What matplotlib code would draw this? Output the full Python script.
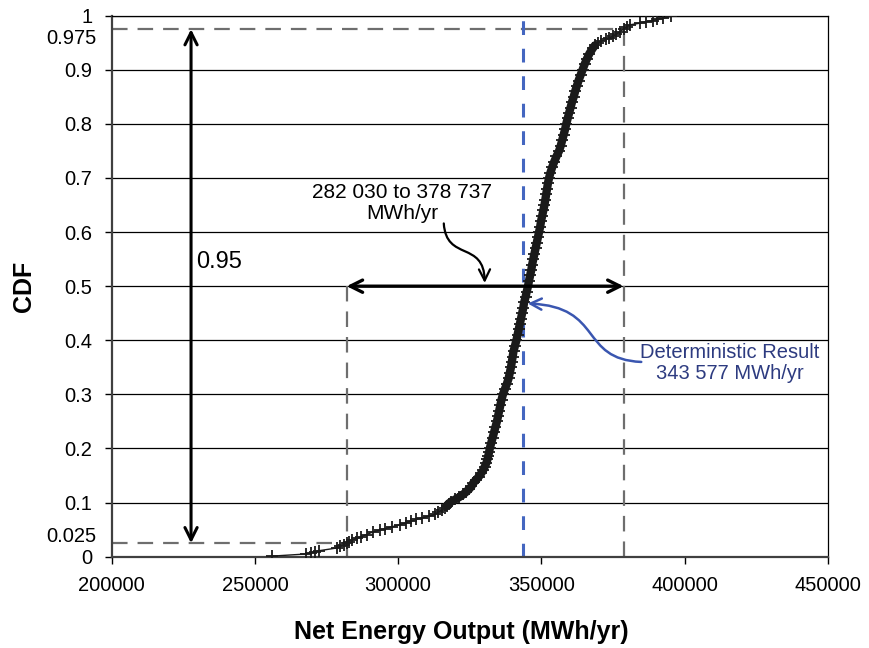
import matplotlib
matplotlib.use("Agg")
import matplotlib.pyplot as plt
from matplotlib.patches import FancyArrowPatch
from matplotlib.path import Path
from matplotlib.transforms import ScaledTranslation

plt.rcParams['font.family'] = ['Liberation Sans', 'DejaVu Sans']

# Simulated net energy output samples (MWh/yr) and their empirical CDF levels
energy = [255800, 267800, 269500, 270900, 272300, 278500, 279800, 281000, 282000, 282800,
          284000, 285500, 287200, 289000, 291300, 293600, 295500, 297700, 300500, 302900,
          304600, 306400, 308500, 310800, 312800, 314000, 315200, 316300, 317000, 317600,
          318600, 320000, 321300, 322700, 323800, 324800, 325600, 326200, 327200, 328200,
          329000, 329700, 330200, 330800, 331200, 331500, 331800, 332000, 332500, 333000,
          333500, 334000, 334500, 334900, 335300, 335700, 336100, 336600, 337300, 338000,
          338600, 339000, 339400, 339700, 340000, 340300, 340800, 341300, 341700, 342100,
          342500, 342900, 343300, 343700, 344000, 344500, 344900, 345350, 345700, 346100,
          346500, 346800, 347200, 347600, 348000, 348400, 348800, 349200, 349600, 349900,
          350300, 350700, 351100, 351400, 351700, 352000, 352300, 352700, 353200, 353800,
          354500, 355300, 356200, 356800, 357300, 357800, 358300, 358700, 359200, 359700,
          360200, 360700, 361300, 361800, 362400, 363000, 363700, 364400, 365100, 365900,
          366800, 368000, 368700, 369800, 371000, 372500, 373800, 375000, 376200, 377300,
          378700, 379800, 380800, 384300, 386500, 389000, 390500, 392400, 395400]
cdf = [0.001, 0.005, 0.007, 0.009, 0.011, 0.016, 0.019, 0.022, 0.025, 0.028,
       0.031, 0.034, 0.037, 0.041, 0.046, 0.049, 0.052, 0.055, 0.059, 0.063,
       0.066, 0.069, 0.072, 0.075, 0.078, 0.082, 0.086, 0.090, 0.094, 0.098,
       0.102, 0.106, 0.110, 0.115, 0.120, 0.125, 0.130, 0.136, 0.142, 0.148,
       0.154, 0.160, 0.166, 0.173, 0.180, 0.187, 0.194, 0.200, 0.210, 0.220,
       0.230, 0.240, 0.250, 0.260, 0.270, 0.280, 0.290, 0.300, 0.310, 0.320,
       0.330, 0.340, 0.350, 0.360, 0.370, 0.380, 0.390, 0.400, 0.410, 0.420,
       0.430, 0.440, 0.450, 0.460, 0.470, 0.480, 0.490, 0.500, 0.510, 0.520,
       0.530, 0.540, 0.550, 0.560, 0.570, 0.580, 0.590, 0.600, 0.610, 0.620,
       0.630, 0.640, 0.650, 0.660, 0.670, 0.680, 0.690, 0.700, 0.710, 0.720,
       0.730, 0.740, 0.750, 0.760, 0.770, 0.780, 0.790, 0.800, 0.810, 0.820,
       0.830, 0.840, 0.850, 0.860, 0.870, 0.880, 0.890, 0.900, 0.910, 0.920,
       0.930, 0.940, 0.945, 0.950, 0.953, 0.956, 0.959, 0.962, 0.966, 0.970,
       0.975, 0.979, 0.983, 0.986, 0.989, 0.991, 0.993, 0.995, 0.999]

x_ticks = [200000, 250000, 300000, 350000, 400000, 450000]
y_major = [0, 0.1, 0.2, 0.3, 0.4, 0.5, 0.6, 0.7, 0.8, 0.9, 1.0]
y_major_labels = ['0', '0.1', '0.2', '0.3', '0.4', '0.5', '0.6', '0.7', '0.8', '0.9', '1']
y_minor = [0.025, 0.975]
y_minor_labels = ['0.025', '0.975']

p_low, p_high = 0.025, 0.975
ci_low, ci_high = 282030, 378737
deterministic = 343577

fig = plt.figure(figsize=(8.7, 6.48), dpi=100)
ax = fig.add_axes([0.1284, 0.1409, 0.823, 0.8349])

ax.set_xlim(200000, 450000)
ax.set_ylim(0, 1)

# gridlines
for yv in y_major[1:]:
    ax.axhline(yv, color='black', lw=0.9, zorder=1)

# dashed reference lines
dash_gray = dict(color='#6e6e6e', lw=1.6, dashes=(7, 4.5), zorder=2)
ax.plot([200000, ci_low], [p_low, p_low], **dash_gray)
ax.plot([ci_low, ci_low], [0, 0.5], **dash_gray)
ax.plot([200000, ci_high], [p_high, p_high], **dash_gray)
ax.plot([ci_high, ci_high], [0, p_high], **dash_gray)
ax.plot([deterministic, deterministic], [0, 1], color='#4466c0', lw=2.2,
        dashes=(4.5, 4.5), zorder=2)

# CDF: markers overlap into a solid band where the samples are dense
dense = [i for i, p in enumerate(cdf) if 0.094 <= p <= 0.945]
ax.plot([energy[i] for i in dense], [cdf[i] for i in dense], color='#1a1a1a',
        lw=6, solid_capstyle='round', zorder=3)
ax.plot(energy, cdf, color='#1a1a1a', lw=1.0, marker='+', markersize=9,
        markeredgewidth=1.3, zorder=4)

# double arrows
ax.annotate('', xy=(227700, p_low), xytext=(227700, p_high),
            arrowprops=dict(arrowstyle='<->', lw=2.2, color='black',
                            mutation_scale=22, shrinkA=0, shrinkB=0), zorder=5)
ax.annotate('', xy=(ci_low, 0.5), xytext=(ci_high, 0.5),
            arrowprops=dict(arrowstyle='<->', lw=2.4, color='black',
                            mutation_scale=22, shrinkA=0, shrinkB=0), zorder=5)

ax.text(229500, 0.545, '0.95', fontsize=17, ha='left', va='center')
ax.text(301500, 0.654, '282 030 to 378 737\nMWh/yr', fontsize=15, ha='center',
        va='center', linespacing=1.15)
ax.text(415700, 0.358, 'Deterministic Result\n343 577 MWh/yr', fontsize=14.5,
        ha='center', va='center', color='#2d3b80', linespacing=1.1)

# curved arrows
p_black = Path([(315950, 0.616), (316800, 0.545), (330000, 0.585), (330240, 0.506)],
               [Path.MOVETO, Path.CURVE4, Path.CURVE4, Path.CURVE4])
ax.add_patch(FancyArrowPatch(path=p_black, arrowstyle='->', lw=1.6, color='black',
                             mutation_scale=20, zorder=5))
p_blue = Path([(384900, 0.360), (363000, 0.365), (372000, 0.462), (345250, 0.468)],
              [Path.MOVETO, Path.CURVE4, Path.CURVE4, Path.CURVE4])
ax.add_patch(FancyArrowPatch(path=p_blue, arrowstyle='->', lw=1.8, color='#3a56b0',
                             mutation_scale=20, zorder=5))

# ticks
ax.set_xticks(x_ticks)
ax.set_xticklabels([str(v) for v in x_ticks])
ax.set_yticks(y_major)
ax.set_yticklabels(y_major_labels)
ax.set_yticks(y_minor, minor=True)
ax.set_yticklabels(y_minor_labels, minor=True)
ax.tick_params(axis='both', which='major', labelsize=14.5, direction='out',
               length=5, width=1.0, colors='black')
ax.tick_params(axis='y', which='major', pad=9)
ax.tick_params(axis='y', which='minor', labelsize=14.5, length=0, pad=11)
ax.tick_params(axis='x', pad=9)

# nudge the crowded minor labels away from their neighbours
offsets = {'0.025': 6, '0.975': -5}
for lab in ax.get_yticklabels(minor=True):
    dy = offsets.get(lab.get_text(), 0)
    lab.set_transform(lab.get_transform() + ScaledTranslation(0, dy / 72, fig.dpi_scale_trans))

for s in ['left', 'bottom']:
    ax.spines[s].set_color('#404040')
    ax.spines[s].set_linewidth(1.6)
for s in ['top', 'right']:
    ax.spines[s].set_color('black')
    ax.spines[s].set_linewidth(0.9)

ax.set_xlabel('Net Energy Output (MWh/yr)', fontsize=18, fontweight='bold')
ax.xaxis.set_label_coords(0.488, -0.139)
ax.xaxis.label.set_va('center')
ax.set_ylabel('CDF', fontsize=18, fontweight='bold')
ax.yaxis.set_label_coords(-0.123, 0.5)
ax.yaxis.label.set_va('center')

fig.savefig('out.png', dpi=100)
